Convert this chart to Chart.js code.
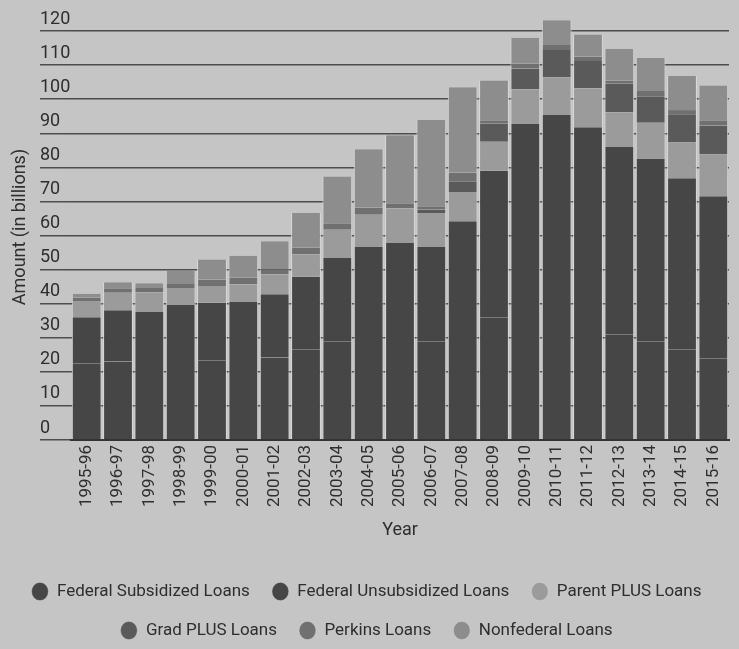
<!DOCTYPE html>
<html>
<head>
<meta charset="utf-8">
<script src="https://cdn.jsdelivr.net/npm/chart.js@4/dist/chart.umd.min.js"></script>
<style>
  body { margin: 0; background: #c5c5c5; }
  canvas { display: block; }
</style>
</head>
<body>
<canvas id="chart" width="739" height="649"></canvas>
<script>
const years = ["1995-96", "1996-97", "1997-98", "1998-99", "1999-00", "2000-01", "2001-02",
  "2002-03", "2003-04", "2004-05", "2005-06", "2006-07", "2007-08", "2008-09", "2009-10",
  "2010-11", "2011-12", "2012-13", "2013-14", "2014-15", "2015-16"];

// amounts in billions
const subsidized = [22.5, 23.0, 22.6, 23.2, 23.4, 23.2, 24.2, 26.6, 29.0, 30.1, 30.2, 29.0, 30.5, 36.0, 40.5, 40.8, 39.0, 31.0, 29.0, 26.5, 24.0];
const unsubsidized = [13.5, 15.1, 15.1, 16.4, 16.9, 17.3, 18.6, 21.3, 24.4, 26.5, 27.6, 27.6, 33.7, 43.0, 52.4, 54.6, 52.8, 55.0, 53.6, 50.3, 47.5];
const parentPlus = [4.8, 5.1, 5.6, 5.0, 4.9, 5.2, 5.8, 6.5, 8.3, 9.5, 10.2, 10.0, 8.6, 8.5, 10.0, 11.0, 11.4, 10.2, 10.5, 10.5, 12.3];
const gradPlus = [0, 0, 0, 0, 0, 0, 0, 0, 0, 0, 0, 1.0, 3.1, 5.3, 6.1, 8.0, 8.0, 8.3, 7.8, 8.1, 8.5];
const perkins = [1.0, 1.3, 1.3, 1.2, 1.9, 1.9, 1.5, 2.0, 1.9, 2.1, 1.5, 1.0, 2.6, 1.0, 1.4, 1.5, 1.3, 0.9, 1.5, 1.4, 1.5];
const nonfederal = [1.1, 1.8, 1.4, 3.8, 5.9, 6.5, 8.2, 10.2, 13.7, 17.1, 19.9, 25.3, 25.0, 11.7, 7.6, 7.3, 6.5, 9.3, 9.7, 10.0, 10.2];

const yTicks = [0, 10, 20, 30, 40, 50, 60, 70, 80, 90, 100, 110, 120];

Chart.defaults.font.family = "Roboto";
Chart.defaults.color = "#2e2e2e";

const ctx = document.getElementById("chart");
const myChart = new Chart(ctx, {
  type: "bar",
  data: {
    labels: years,
    datasets: [
      { label: "Federal Subsidized Loans", data: subsidized, backgroundColor: "#464646" },
      { label: "Federal Unsubsidized Loans", data: unsubsidized, backgroundColor: "#464646" },
      { label: "Parent PLUS Loans", data: parentPlus, backgroundColor: "#9b9b9b" },
      { label: "Grad PLUS Loans", data: gradPlus, backgroundColor: "#5a5a5a" },
      { label: "Perkins Loans", data: perkins, backgroundColor: "#707070" },
      { label: "Nonfederal Loans", data: nonfederal, backgroundColor: "#8d8d8d" },
    ],
  },
  options: {
    responsive: false,
    animation: false,
    datasets: {
      bar: {
        categoryPercentage: 1,
        barPercentage: 0.95,
        borderColor: "#dadada",
        borderWidth: { left: 1, right: 1, top: 0, bottom: 0 },
      },
    },
    layout: { padding: { top: 14, left: 4, right: 10, bottom: 0 } },
    plugins: {
      tooltip: { enabled: false },
      legend: {
        position: "bottom",
        labels: {
          usePointStyle: true,
          pointStyle: "circle",
          pointStyleWidth: 17,
          boxHeight: 13,
          padding: 22,
          font: { size: 17 },
        },
      },
    },
    scales: {
      x: {
        stacked: true,
        grid: { display: false, drawTicks: false },
        border: { color: "#333", width: 2 },
        ticks: { minRotation: 90, maxRotation: 90, padding: 5, font: { size: 17 } },
        title: { display: true, text: "Year", font: { size: 18 }, padding: { top: 0, bottom: 20 } },
        afterFit: (s) => { s.height = 121; },
      },
      y: {
        stacked: true,
        min: 0,
        max: 125,
        ticks: {
          mirror: true,
          crossAlign: "near",
          padding: -31,
          labelOffset: -12,
          font: { size: 18 },
        },
        grid: { color: "#4d4d4d", lineWidth: 1.5, tickLength: 31 },
        border: { display: false },
        title: { display: true, text: "Amount (in billions)", font: { size: 18 }, padding: { top: 6, bottom: 0 } },
        afterBuildTicks: (s) => { s.ticks = yTicks.map((v) => ({ value: v })); },
        afterFit: (s) => { s.width = 67; },
      },
    },
  },
});
</script>
</body>
</html>
